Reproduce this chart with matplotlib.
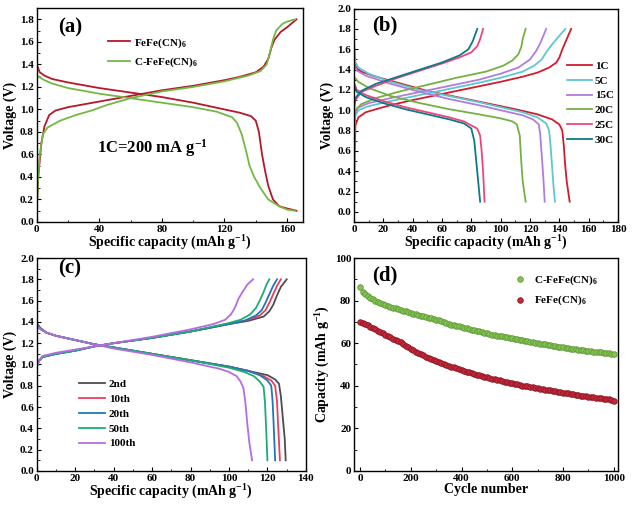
import numpy as np
import matplotlib
matplotlib.use("Agg")
import matplotlib.pyplot as plt
from matplotlib.ticker import MultipleLocator, FormatStrFormatter

plt.rcParams['font.family'] = ['Liberation Serif', 'DejaVu Serif']
plt.rcParams['font.weight'] = 'bold'
plt.rcParams['mathtext.fontset'] = 'custom'
plt.rcParams['mathtext.rm'] = 'Liberation Serif:bold'
plt.rcParams['mathtext.bf'] = 'Liberation Serif:bold'
plt.rcParams['mathtext.it'] = 'Liberation Serif:italic:bold'
plt.rcParams['axes.linewidth'] = 1.0

# ---------------- (a) 1C charge / discharge ----------------
a_fe_chg_x = [0, 1, 3, 5, 8, 12, 20, 40, 60, 80, 100, 120, 130, 140, 145, 148, 150, 152, 156, 160, 166]
a_fe_chg_y = [0.1, 0.4, 0.7, 0.85, 0.95, 0.99, 1.02, 1.07, 1.12, 1.17, 1.21, 1.26, 1.29, 1.33, 1.38, 1.45, 1.55, 1.62, 1.69, 1.73, 1.80]
a_fe_dis_x = [0, 2, 5, 10, 20, 40, 60, 80, 100, 120, 130, 137, 140, 142, 144, 146, 148, 151, 155, 160, 166]
a_fe_dis_y = [1.40, 1.33, 1.30, 1.27, 1.24, 1.19, 1.15, 1.11, 1.06, 1.00, 0.97, 0.94, 0.90, 0.80, 0.60, 0.45, 0.32, 0.20, 0.14, 0.12, 0.10]
a_c_chg_x = [0, 1, 2, 4, 7, 15, 25, 35, 45, 60, 80, 100, 120, 135, 143, 147, 149, 151, 153, 157, 160, 165]
a_c_chg_y = [0.1, 0.4, 0.6, 0.78, 0.84, 0.90, 0.95, 0.99, 1.04, 1.10, 1.16, 1.20, 1.25, 1.30, 1.34, 1.40, 1.50, 1.62, 1.70, 1.76, 1.78, 1.80]
a_c_dis_x = [0, 5, 10, 20, 40, 60, 80, 100, 115, 125, 128, 131, 134, 136, 139, 143, 148, 155, 160, 165]
a_c_dis_y = [1.30, 1.26, 1.23, 1.19, 1.14, 1.10, 1.06, 1.02, 0.98, 0.93, 0.88, 0.78, 0.62, 0.50, 0.40, 0.30, 0.20, 0.14, 0.11, 0.10]

# ---------------- (b) rate performance ----------------
b_labels = ['1C', '5C', '15C', '20C', '25C', '30C']
b_colors = ['#d01c2c', '#5cc8d2', '#b07ce0', '#74b043', '#f0457c', '#0b7a8a']
b_chg_x = [
    [0, 0.5, 1, 3, 8, 15, 25, 40, 60, 80, 100, 115, 125, 133, 138, 140, 142, 145, 148],
    [0, 0.5, 1, 3, 10, 25, 45, 65, 85, 100, 115, 123, 128, 131, 134, 138, 144],
    [0, 0.5, 2, 10, 25, 45, 65, 85, 100, 112, 120, 124, 127, 129, 131],
    [0, 1, 5, 15, 30, 50, 70, 90, 102, 108, 112, 114, 115, 117],
    [0, 1, 5, 15, 30, 45, 60, 72, 80, 84, 86, 88],
    [0, 1, 5, 15, 30, 45, 60, 72, 78, 81, 84],
]
b_chg_y = [
    [0.05, 0.6, 0.85, 0.93, 0.98, 1.01, 1.05, 1.10, 1.16, 1.22, 1.28, 1.33, 1.37, 1.42, 1.47, 1.52, 1.60, 1.70, 1.80],
    [0.5, 0.85, 0.95, 1.00, 1.04, 1.09, 1.15, 1.21, 1.27, 1.32, 1.38, 1.44, 1.50, 1.57, 1.63, 1.70, 1.80],
    [0.8, 0.95, 1.02, 1.07, 1.12, 1.18, 1.24, 1.30, 1.36, 1.42, 1.50, 1.58, 1.66, 1.73, 1.80],
    [0.9, 1.0, 1.06, 1.12, 1.18, 1.25, 1.32, 1.38, 1.44, 1.49, 1.55, 1.62, 1.70, 1.80],
    [1.0, 1.1, 1.18, 1.24, 1.32, 1.39, 1.46, 1.52, 1.57, 1.63, 1.70, 1.80],
    [1.05, 1.12, 1.19, 1.26, 1.33, 1.40, 1.47, 1.54, 1.60, 1.68, 1.80],
]
b_dis_x = [
    [0, 0.5, 1.5, 5, 15, 30, 50, 70, 90, 110, 125, 135, 140, 142, 143, 144, 145, 146, 147],
    [0, 1, 3, 10, 25, 45, 65, 85, 100, 115, 125, 131, 133, 134, 135, 136, 137],
    [0, 2, 8, 25, 45, 65, 85, 100, 115, 122, 126, 127, 128, 129, 130],
    [0, 3, 10, 25, 45, 65, 85, 100, 108, 111, 113, 114, 115, 116, 117],
    [0, 2, 8, 20, 35, 50, 65, 75, 80, 84, 86, 87, 88, 89],
    [0, 2, 8, 20, 35, 50, 65, 75, 80, 82, 83, 84, 85, 86],
]
b_dis_y = [
    [1.75, 1.50, 1.42, 1.38, 1.33, 1.27, 1.19, 1.13, 1.07, 1.01, 0.96, 0.91, 0.86, 0.80, 0.65, 0.45, 0.30, 0.20, 0.10],
    [1.60, 1.47, 1.42, 1.36, 1.28, 1.20, 1.14, 1.08, 1.03, 0.98, 0.93, 0.87, 0.80, 0.65, 0.45, 0.25, 0.10],
    [1.45, 1.39, 1.34, 1.26, 1.18, 1.11, 1.05, 1.00, 0.95, 0.91, 0.86, 0.75, 0.55, 0.35, 0.10],
    [1.33, 1.28, 1.22, 1.14, 1.07, 1.01, 0.96, 0.92, 0.89, 0.86, 0.75, 0.50, 0.30, 0.20, 0.10],
    [1.27, 1.20, 1.15, 1.09, 1.03, 0.98, 0.93, 0.89, 0.85, 0.82, 0.75, 0.60, 0.40, 0.10],
    [1.25, 1.18, 1.13, 1.07, 1.01, 0.96, 0.91, 0.87, 0.82, 0.70, 0.55, 0.40, 0.25, 0.10],
]

# ---------------- (c) cycling curves ----------------
c_labels = ['2nd', '10th', '20th', '50th', '100th']
c_colors = ['#4d4d4d', '#ee3b5f', '#1f77b8', '#1bac72', '#b46ce4']
c_chg_x = [
    [0, 1, 3, 10, 20, 30, 40, 60, 80, 100, 110, 118, 121, 123, 125, 127, 130],
    [0, 1, 3, 10, 20, 30, 40, 60, 80, 100, 110, 116, 119, 121, 123, 125, 127],
    [0, 1, 3, 10, 20, 30, 40, 60, 80, 100, 108, 114, 117, 119, 121, 123, 125],
    [0, 1, 3, 10, 20, 30, 40, 60, 80, 100, 106, 111, 114, 116, 118, 119.5, 121],
    [0, 1, 3, 10, 20, 30, 40, 60, 80, 92, 98, 101, 103, 105, 107, 109.5, 112.5],
]
c_chg_y = [
    [0.97, 1.03, 1.07, 1.10, 1.13, 1.17, 1.20, 1.25, 1.31, 1.38, 1.41, 1.45, 1.50, 1.56, 1.65, 1.73, 1.80],
    [0.97, 1.03, 1.07, 1.10, 1.13, 1.17, 1.20, 1.25, 1.31, 1.38, 1.42, 1.46, 1.51, 1.58, 1.66, 1.74, 1.80],
    [0.97, 1.03, 1.07, 1.10, 1.13, 1.17, 1.20, 1.25, 1.31, 1.38, 1.41, 1.46, 1.51, 1.58, 1.66, 1.74, 1.80],
    [0.97, 1.03, 1.07, 1.10, 1.13, 1.17, 1.20, 1.25, 1.31, 1.39, 1.42, 1.47, 1.53, 1.60, 1.68, 1.75, 1.80],
    [0.97, 1.03, 1.08, 1.11, 1.14, 1.17, 1.20, 1.26, 1.33, 1.38, 1.42, 1.47, 1.53, 1.62, 1.68, 1.75, 1.80],
]
c_dis_x = [
    [0, 2, 5, 10, 20, 30, 40, 60, 80, 100, 110, 120, 124, 126, 127, 128, 129, 129.5],
    [0, 2, 5, 10, 20, 30, 40, 60, 80, 100, 110, 118, 122, 124, 125, 125.5, 126, 126.5],
    [0, 2, 5, 10, 20, 30, 40, 60, 80, 100, 110, 116, 120, 122, 122.7, 123.2, 123.6, 124],
    [0, 2, 5, 10, 20, 30, 40, 60, 80, 100, 108, 113, 116, 118, 118.7, 119.2, 119.6, 120],
    [0, 2, 5, 10, 20, 30, 40, 60, 80, 95, 100, 104, 106, 107.5, 108.5, 109.5, 110.5, 112],
]
c_dis_y = [
    [1.39, 1.34, 1.30, 1.27, 1.23, 1.19, 1.16, 1.10, 1.04, 0.98, 0.94, 0.90, 0.86, 0.82, 0.70, 0.50, 0.30, 0.10],
    [1.38, 1.34, 1.30, 1.27, 1.23, 1.19, 1.16, 1.10, 1.04, 0.98, 0.94, 0.89, 0.85, 0.80, 0.65, 0.45, 0.28, 0.10],
    [1.38, 1.34, 1.30, 1.27, 1.23, 1.19, 1.16, 1.10, 1.04, 0.98, 0.94, 0.90, 0.85, 0.80, 0.65, 0.45, 0.28, 0.10],
    [1.37, 1.33, 1.30, 1.27, 1.23, 1.19, 1.16, 1.10, 1.04, 0.97, 0.93, 0.89, 0.84, 0.79, 0.65, 0.45, 0.28, 0.10],
    [1.36, 1.33, 1.30, 1.27, 1.23, 1.19, 1.15, 1.09, 1.02, 0.96, 0.93, 0.89, 0.84, 0.78, 0.65, 0.45, 0.28, 0.10],
]

# ---------------- (d) long cycling ----------------
d_cycles = list(range(0, 1001, 10))
d_c_cap = [86.5, 84.0, 83.0, 82.0, 81.3, 80.6, 80.0, 79.4, 78.9, 78.4, 77.9,
           77.5, 77.1, 76.7, 76.4, 76.0, 75.6, 75.3, 74.9, 74.6, 74.2,
           73.9, 73.6, 73.2, 72.9, 72.6, 72.3, 72.0, 71.7, 71.3, 71.0,
           70.7, 70.3, 70.0, 69.5, 69.1, 68.7, 68.4, 68.1, 67.9, 67.6,
           67.3, 67.0, 66.7, 66.4, 66.1, 65.8, 65.5, 65.2, 64.9, 64.6,
           64.3, 64.0, 63.8, 63.6, 63.4, 63.2, 63.0, 62.8, 62.6, 62.3,
           62.1, 61.9, 61.6, 61.4, 61.2, 60.9, 60.7, 60.5, 60.3, 60.0,
           59.8, 59.6, 59.4, 59.2, 59.0, 58.8, 58.6, 58.4, 58.2, 58.0,
           57.8, 57.6, 57.5, 57.3, 57.1, 57.0, 56.8, 56.6, 56.5, 56.3,
           56.2, 56.0, 55.9, 55.8, 55.7, 55.6, 55.5, 55.3, 55.1, 55.0]
d_fe_cap = [70.0, 69.5, 69.0, 68.4, 67.8, 67.2, 66.5, 65.9, 65.3, 64.6, 64.0,
            63.3, 62.7, 62.1, 61.7, 61.2, 60.5, 59.7, 58.9, 58.1, 57.4,
            56.7, 56.1, 55.5, 54.9, 54.3, 53.7, 53.2, 52.7, 52.2, 51.7,
            51.2, 50.7, 50.3, 49.8, 49.4, 49.0, 48.6, 48.2, 47.8, 47.4,
            47.0, 46.6, 46.3, 45.9, 45.6, 45.2, 44.9, 44.6, 44.3, 44.0,
            43.7, 43.4, 43.1, 42.8, 42.5, 42.2, 41.9, 41.7, 41.4, 41.1,
            40.9, 40.6, 40.4, 40.1, 39.9, 39.7, 39.5, 39.2, 39.0, 38.8,
            38.6, 38.4, 38.2, 38.0, 37.8, 37.6, 37.4, 37.2, 37.0, 36.8,
            36.6, 36.4, 36.2, 36.0, 35.8, 35.6, 35.4, 35.2, 35.0, 34.8,
            34.6, 34.5, 34.3, 34.2, 34.1, 34.0, 33.9, 33.6, 33.2, 32.8]

cap_label = r'Specific capacity (mAh g$\mathregular{^{-1}}$)'


def style(ax, xmaj, xmin, ymaj, ymin):
    ax.xaxis.set_major_locator(MultipleLocator(xmaj))
    ax.xaxis.set_minor_locator(MultipleLocator(xmin))
    ax.yaxis.set_major_locator(MultipleLocator(ymaj))
    ax.yaxis.set_minor_locator(MultipleLocator(ymin))
    ax.tick_params(which='both', direction='in', top=False, right=False, labelsize=8, pad=2)
    ax.tick_params(which='major', length=3)
    ax.tick_params(which='minor', length=1.8)
    for lab in ax.get_xticklabels() + ax.get_yticklabels():
        lab.set_fontweight('bold')


fig = plt.figure(figsize=(6.32, 5.08), dpi=100)
ax_a = fig.add_axes([0.058, 0.563, 0.421, 0.421])
ax_b = fig.add_axes([0.560, 0.563, 0.418, 0.420])
ax_c = fig.add_axes([0.058, 0.073, 0.426, 0.419])
ax_d = fig.add_axes([0.560, 0.073, 0.418, 0.419])

# (a)
ax_a.plot(a_fe_chg_x, a_fe_chg_y, color='#b5172b', lw=1.3, label=r'FeFe(CN)$\mathregular{_6}$')
ax_a.plot(a_fe_dis_x, a_fe_dis_y, color='#b5172b', lw=1.3)
ax_a.plot(a_c_chg_x, a_c_chg_y, color='#74b843', lw=1.3, label=r'C-FeFe(CN)$\mathregular{_6}$')
ax_a.plot(a_c_dis_x, a_c_dis_y, color='#74b843', lw=1.3)
ax_a.set_xlim(0, 170)
ax_a.set_ylim(0, 1.9)
style(ax_a, 40, 20, 0.2, 0.1)
ax_a.yaxis.set_major_formatter(FormatStrFormatter('%.1f'))
ax_a.set_xlabel(cap_label, fontsize=10, fontweight='bold', labelpad=0)
ax_a.set_ylabel('Voltage (V)', fontsize=10, fontweight='bold', labelpad=2)
ax_a.text(0.08, 0.91, '(a)', transform=ax_a.transAxes, fontsize=15, fontweight='bold', va='center')
ax_a.text(74, 0.66, r'1C=200 mA g$\mathregular{^{-1}}$', fontsize=12, fontweight='bold', ha='center', va='center')
ax_a.legend(loc='upper left', bbox_to_anchor=(0.25, 0.89), frameon=False, fontsize=8,
            handlelength=2.0, labelspacing=0.5, borderaxespad=0, handletextpad=0.4)

# (b)
for i in range(len(b_labels)):
    ax_b.plot(b_chg_x[i], b_chg_y[i], color=b_colors[i], lw=1.3, label=b_labels[i])
    ax_b.plot(b_dis_x[i], b_dis_y[i], color=b_colors[i], lw=1.3)
ax_b.set_xlim(0, 180)
ax_b.set_ylim(-0.1, 2.0)
style(ax_b, 20, 10, 0.2, 0.1)
ax_b.yaxis.set_major_formatter(FormatStrFormatter('%.1f'))
ax_b.set_xlabel(cap_label, fontsize=10, fontweight='bold', labelpad=0)
ax_b.set_ylabel('Voltage (V)', fontsize=10, fontweight='bold', labelpad=2)
ax_b.text(0.07, 0.92, '(b)', transform=ax_b.transAxes, fontsize=15, fontweight='bold', va='center')
ax_b.legend(loc='upper left', bbox_to_anchor=(0.79, 0.775), frameon=False, fontsize=8,
            handlelength=2.2, labelspacing=0.45, borderaxespad=0, handletextpad=0.3)

# (c)
for i in range(len(c_labels)):
    ax_c.plot(c_chg_x[i], c_chg_y[i], color=c_colors[i], lw=1.3, label=c_labels[i])
    ax_c.plot(c_dis_x[i], c_dis_y[i], color=c_colors[i], lw=1.3)
ax_c.set_xlim(0, 140)
ax_c.set_ylim(0, 2.0)
style(ax_c, 20, 10, 0.2, 0.1)
ax_c.yaxis.set_major_formatter(FormatStrFormatter('%.1f'))
ax_c.set_xlabel(cap_label, fontsize=10, fontweight='bold', labelpad=0)
ax_c.set_ylabel('Voltage (V)', fontsize=10, fontweight='bold', labelpad=2)
ax_c.text(0.08, 0.95, '(c)', transform=ax_c.transAxes, fontsize=15, fontweight='bold', va='center')
ax_c.legend(loc='upper left', bbox_to_anchor=(0.14, 0.45), frameon=False, fontsize=8,
            handlelength=2.4, labelspacing=0.45, borderaxespad=0, handletextpad=0.3)

# (d)
ax_d.scatter(d_cycles, d_c_cap, s=16, color='#86c253', edgecolors='#5d9a35', linewidths=0.6,
             label=r'C-FeFe(CN)$\mathregular{_6}$', zorder=3)
ax_d.scatter(d_cycles, d_fe_cap, s=16, color='#c22a3a', edgecolors='#8e1424', linewidths=0.6,
             label=r'FeFe(CN)$\mathregular{_6}$', zorder=3)
ax_d.set_xlim(-24, 1017)
ax_d.set_ylim(0, 100)
style(ax_d, 200, 100, 20, 10)
ax_d.set_xlabel('Cycle number', fontsize=10, fontweight='bold', labelpad=0)
ax_d.set_ylabel(r'Capacity (mAh g$\mathregular{^{-1}}$)', fontsize=10, fontweight='bold', labelpad=2)
ax_d.text(0.07, 0.92, '(d)', transform=ax_d.transAxes, fontsize=15, fontweight='bold', va='center')
ax_d.legend(loc='upper left', bbox_to_anchor=(0.58, 0.95), frameon=False, fontsize=8,
            handlelength=1.5, labelspacing=0.6, borderaxespad=0, handletextpad=0.5, scatterpoints=1)

fig.savefig('out.png', dpi=100)
